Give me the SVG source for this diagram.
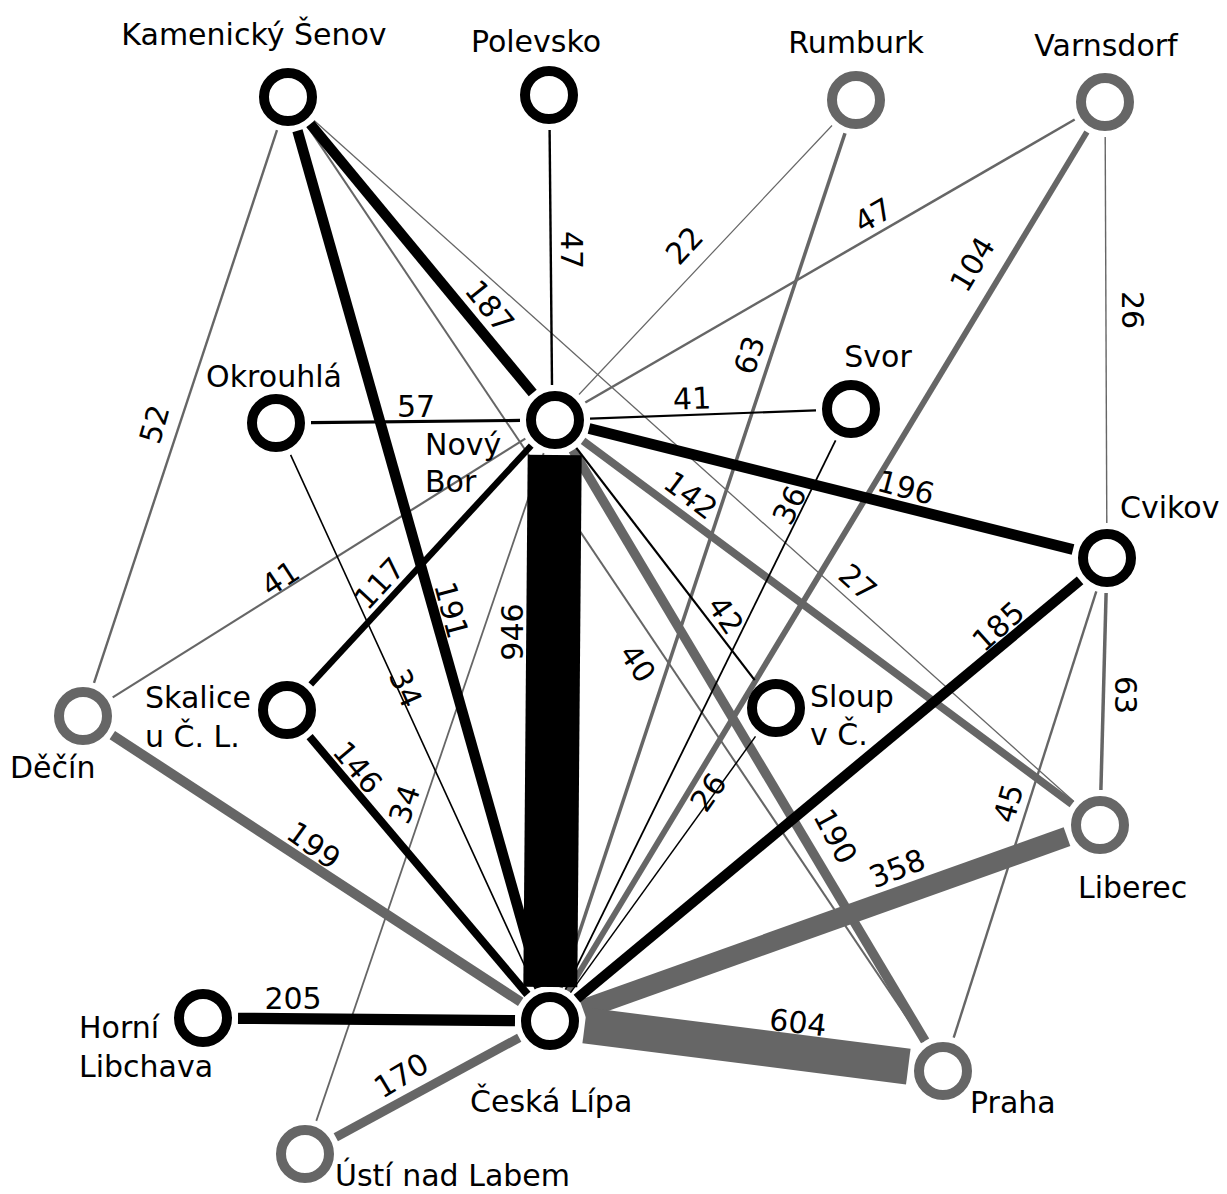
<svg xmlns="http://www.w3.org/2000/svg" width="1227" height="1194" viewBox="0 0 1227 1194">
<style>
text{font-family:"DejaVu Sans","Verdana",sans-serif;font-size:30px;fill:#000}
.el{text-anchor:middle}
line{stroke-linecap:butt}
.b{stroke:#000}
.g{stroke:#666}
.nb{fill:#fff;stroke:#000;stroke-width:10}
.ng{fill:#fff;stroke:#666;stroke-width:10}
</style>
<rect width="1227" height="1194" fill="#fff"/>
<g id="connectors">
<line class="g" x1="277.0" y1="130.2" x2="94.0" y2="682.8" stroke-width="2.4"/>
<line class="g" x1="307.5" y1="126.1" x2="923.5" y2="1042.0" stroke-width="2"/>
<line class="g" x1="314.1" y1="120.4" x2="1073.9" y2="801.6" stroke-width="1.3"/>
<line class="g" x1="832.0" y1="125.5" x2="579.0" y2="394.5" stroke-width="1.2"/>
<line class="g" x1="845.0" y1="133.2" x2="561.0" y2="987.8" stroke-width="3.5"/>
<line class="g" x1="1074.7" y1="119.5" x2="585.3" y2="402.5" stroke-width="2.5"/>
<line class="g" x1="1086.9" y1="132.0" x2="568.1" y2="991.0" stroke-width="5.8"/>
<line class="g" x1="1105.2" y1="137" x2="1106.8" y2="523" stroke-width="1.4"/>
<line class="g" x1="525.3" y1="438.6" x2="112.7" y2="697.4" stroke-width="2.2"/>
<line class="g" x1="583.1" y1="440.9" x2="1071.9" y2="804.1" stroke-width="7.8"/>
<line class="g" x1="572.9" y1="450.1" x2="925.1" y2="1040.9" stroke-width="9.5"/>
<line class="g" x1="543.7" y1="453.1" x2="316.3" y2="1120.9" stroke-width="1.8"/>
<line class="g" x1="1106.1" y1="593" x2="1100.9" y2="790" stroke-width="3.5"/>
<line class="g" x1="1096.3" y1="591.3" x2="953.7" y2="1037.7" stroke-width="2.4"/>
<line class="g" x1="112.3" y1="735.1" x2="520.7" y2="1001.9" stroke-width="10"/>
<line class="g" x1="335.8" y1="1137.3" x2="519.2" y2="1037.7" stroke-width="9"/>
<line class="g" x1="1067.0" y1="836.7" x2="583.0" y2="1009.3" stroke-width="20"/>
<line class="g" x1="908.3" y1="1066.6" x2="584.7" y2="1025.4" stroke-width="36"/>
<line class="b" x1="310.3" y1="124.0" x2="532.7" y2="393.0" stroke-width="10.3"/>
<line class="b" x1="297.5" y1="130.7" x2="540.5" y2="987.3" stroke-width="10.5"/>
<line class="b" x1="549.6" y1="130.0" x2="552" y2="385.0" stroke-width="2.4"/>
<line class="b" x1="311" y1="422.6" x2="520" y2="420.4" stroke-width="3.2"/>
<line class="b" x1="290.6" y1="454.8" x2="535.4" y2="989.2" stroke-width="1.6"/>
<line class="b" x1="590" y1="418.7" x2="816" y2="410.3" stroke-width="2.2"/>
<line class="b" x1="589.0" y1="428.5" x2="1073.0" y2="549.5" stroke-width="10.8"/>
<line class="b" x1="576.3" y1="447.8" x2="754.7" y2="680.2" stroke-width="2.2"/>
<line class="b" x1="554.7" y1="455" x2="550.3" y2="987" stroke-width="54"/>
<line class="b" x1="531.2" y1="445.7" x2="310.8" y2="684.3" stroke-width="6.4"/>
<line class="b" x1="835.6" y1="440.4" x2="565.4" y2="989.6" stroke-width="1.8"/>
<line class="b" x1="755.5" y1="736.4" x2="570.5" y2="992.6" stroke-width="1.5"/>
<line class="b" x1="1080.1" y1="580.4" x2="576.9" y2="998.6" stroke-width="10.2"/>
<line class="b" x1="309.6" y1="736.7" x2="527.4" y2="994.3" stroke-width="8"/>
<line class="b" x1="238" y1="1018.3" x2="515" y2="1020.7" stroke-width="11.3"/>
</g>
<g id="edge-labels" class="el">
<text transform="translate(490,306) rotate(51)" y="11">187</text>
<text transform="translate(572,250) rotate(90)" y="11">47</text>
<text transform="translate(684,245) rotate(-47)" y="11">22</text>
<text transform="translate(873,215) rotate(-30)" y="11">47</text>
<text transform="translate(972,264) rotate(-59)" y="11">104</text>
<text transform="translate(1133,310) rotate(90)" y="11">26</text>
<text transform="translate(154,424) rotate(-74)" y="11">52</text>
<text transform="translate(416,406)" y="11">57</text>
<text transform="translate(692,398) rotate(-2)" y="11">41</text>
<text transform="translate(749,355) rotate(-72)" y="11">63</text>
<text transform="translate(789,505) rotate(-64)" y="11">36</text>
<text transform="translate(906,487) rotate(15)" y="11">196</text>
<text transform="translate(280,578) rotate(-33)" y="11">41</text>
<text transform="translate(379,583) rotate(-47)" y="11">117</text>
<text transform="translate(452,610) rotate(75)" y="11">191</text>
<text transform="translate(512,632) rotate(-90)" y="11">946</text>
<text transform="translate(691,495) rotate(37)" y="11">142</text>
<text transform="translate(858,582) rotate(42)" y="11">27</text>
<text transform="translate(638,663) rotate(56)" y="11">40</text>
<text transform="translate(726,615) rotate(56)" y="11">42</text>
<text transform="translate(998,626) rotate(-42)" y="11">185</text>
<text transform="translate(1126,695) rotate(90)" y="11">63</text>
<text transform="translate(406,688) rotate(66)" y="11">34</text>
<text transform="translate(404,804) rotate(-71)" y="11">34</text>
<text transform="translate(358,767) rotate(50)" y="11">146</text>
<text transform="translate(314,845) rotate(36)" y="11">199</text>
<text transform="translate(708,792) rotate(-55)" y="11">26</text>
<text transform="translate(836,836) rotate(62)" y="11">190</text>
<text transform="translate(1008,803) rotate(-74)" y="11">45</text>
<text transform="translate(897,868) rotate(-21)" y="11">358</text>
<text transform="translate(293,998)" y="11">205</text>
<text transform="translate(401,1075) rotate(-31)" y="11">170</text>
<text transform="translate(798,1022) rotate(7)" y="11">604</text>
</g>
<g id="n-kamenicky-senov"><circle class="nb" cx="288" cy="97" r="24"/><text class="el" x="254" y="45">Kamenický Šenov</text></g>
<g id="n-polevsko"><circle class="nb" cx="549" cy="95" r="24"/><text class="el" x="536" y="52">Polevsko</text></g>
<g id="n-rumburk"><circle class="ng" cx="856" cy="100" r="24"/><text class="el" x="856" y="53">Rumburk</text></g>
<g id="n-varnsdorf"><circle class="ng" cx="1105" cy="102" r="24"/><text class="el" x="1106" y="56">Varnsdorf</text></g>
<g id="n-okrouhla"><circle class="nb" cx="276" cy="423" r="24"/><text class="el" x="274" y="387">Okrouhlá</text></g>
<g id="n-novy-bor"><circle class="nb" cx="555" cy="420" r="24"/><text x="425" y="455">Nový</text><text x="425" y="492">Bor</text></g>
<g id="n-svor"><circle class="nb" cx="851" cy="409" r="24"/><text class="el" x="878" y="367">Svor</text></g>
<g id="n-cvikov"><circle class="nb" cx="1107" cy="558" r="24"/><text x="1120" y="518">Cvikov</text></g>
<g id="n-skalice"><circle class="nb" cx="287" cy="710" r="24"/><text x="145" y="708">Skalice</text><text x="145" y="747">u Č. L.</text></g>
<g id="n-sloup"><circle class="nb" cx="776" cy="708" r="24"/><text x="810" y="707">Sloup</text><text x="810" y="745">v Č.</text></g>
<g id="n-decin"><circle class="ng" cx="83" cy="716" r="24"/><text x="10" y="778">Děčín</text></g>
<g id="n-liberec"><circle class="ng" cx="1100" cy="825" r="24"/><text x="1078" y="898">Liberec</text></g>
<g id="n-horni-libchava"><circle class="nb" cx="203" cy="1018" r="24"/><text x="79" y="1038">Horní</text><text x="79" y="1077">Libchava</text></g>
<g id="n-ceska-lipa"><circle class="nb" cx="550" cy="1021" r="24"/><text x="470" y="1112">Česká Lípa</text></g>
<g id="n-usti"><circle class="ng" cx="305" cy="1154" r="24"/><text x="335" y="1186">Ústí nad Labem</text></g>
<g id="n-praha"><circle class="ng" cx="943" cy="1071" r="24"/><text x="970" y="1113">Praha</text></g>
</svg>
